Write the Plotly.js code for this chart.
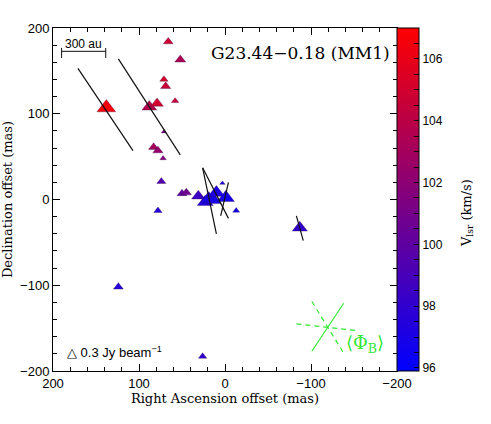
<!DOCTYPE html>
<html>
<head>
<meta charset="utf-8">
<script src="https://cdn.plot.ly/plotly-3.0.1.min.js"></script>
<style>
  body { margin: 0; background: #fff; }
  #plot { width: 491px; height: 424px; }
</style>
</head>
<body>
<div id="plot"></div>
<script>
// maser spots: RA offset, Dec offset (mas), Vlsr (km/s), peak flux (Jy/beam)
var raOff  = [138,  66,  52,  71,  69,  58,  88,  79,  71,  83,  78,  72,  74,  78,  50,  45,  31,  23,  19,  13,  10,  -1,   3, -13, -87, 124,  26];
var decOff = [107, 184, 163, 140, 132, 115, 108, 112,  79,  61,  57,  48,  21, -13,   7,   8,   4,  -3,   1,  -1,   8,   2,  19, -13, -33,-102,-183];
var vlsr   = [106.7,104.8,103.4,105.3,104.6,104.8,103.8,105.0,101.5,103.0,102.4,101.6,99.5,97.5,100.2,100.8,98.5,97.3,97.0,96.9,97.1,96.7,97.0,96.8,98.0,97.5,98.0];
var flux   = [0.50,0.14,0.17,0.10,0.15,0.08,0.31,0.23,0.04,0.15,0.15,0.06,0.12,0.10,0.14,0.15,0.26,0.36,0.38,0.32,0.38,0.42,0.04,0.07,0.33,0.14,0.10];

// polarization vectors (start / end, mas)
var vecX0 = [171, 124,  26,  26,  -4, -83];
var vecY0 = [153, 164,  37,  37,  20, -19];
var vecX1 = [107,  52,  10,  -4,   5, -91];
var vecY1 = [ 57,  52, -40, -22, -19, -48];

// 300 au scale bar
var barX = [190, 138.7];
var barY = 172.8;
var barCap = [176.7, 165];

// <Phi_B> marker: solid line, two dashed lines
var phiSolidX = [-101, -138];
var phiSolidY = [-177, -121];
var phiDashX = [-101, -138, null, -83, -155];
var phiDashY = [-119, -179, null, -145, -153];

var cbTicks = [];
var cbText = [];
for (var v = 96; v <= 107; v += 0.5) {
  cbTicks.push(v);
  cbText.push(v % 2 == 0 ? String(v) : "");
}

function segs(x0, y0, x1, y1) {
  var xs = [], ys = [];
  for (var i = 0; i < x0.length; i++) {
    xs.push(x0[i], x1[i], null);
    ys.push(y0[i], y1[i], null);
  }
  return [xs, ys];
}

var sizes = flux.map(function (f) { return 23 * Math.sqrt(f); });
var vs = segs(vecX0, vecY0, vecX1, vecY1);

var barXs = [barX[0], barX[0], null, barX[0], barX[1], null, barX[1], barX[1]];
var barYs = [barCap[0], barCap[1], null, barY, barY, null, barCap[0], barCap[1]];

var serif = "DejaVu Serif";
var sans = "Liberation Sans";

var data = [
  {
    x: raOff, y: decOff, type: "scatter", mode: "markers",
    marker: {
      symbol: "triangle-up", size: sizes, color: vlsr, opacity: 1,
      colorscale: [[0, "rgb(0,0,255)"], [1, "rgb(255,0,0)"]],
      cmin: 95.9, cmax: 107.0,
      line: { width: 0.6, color: "rgba(40,0,60,0.5)" },
      colorbar: {
        x: 1, xanchor: "left", xpad: 0, y: 0.5, yanchor: "middle", ypad: 0,
        len: 1, lenmode: "fraction", thickness: 22,
        outlinewidth: 1, outlinecolor: "#000",
        tickmode: "array", tickvals: cbTicks, ticktext: cbText,
        ticks: "inside", ticklen: 5, tickcolor: "#000",
        tickfont: { family: sans, size: 12, color: "#000" }
      }
    },
    hoverinfo: "skip", showlegend: false
  },
  { x: vs[0], y: vs[1], type: "scatter", mode: "lines",
    line: { color: "#111", width: 1.2 }, hoverinfo: "skip", showlegend: false },
  { x: barXs, y: barYs, type: "scatter", mode: "lines",
    line: { color: "#111", width: 1 }, hoverinfo: "skip", showlegend: false },
  { x: phiSolidX, y: phiSolidY, type: "scatter", mode: "lines",
    line: { color: "#33e633", width: 1.2 }, hoverinfo: "skip", showlegend: false },
  { x: phiDashX, y: phiDashY, type: "scatter", mode: "lines",
    line: { color: "#33e633", width: 1.2, dash: "5px,4px" }, hoverinfo: "skip", showlegend: false }
];

var axisCommon = {
  showgrid: false, zeroline: false, showline: true, linecolor: "#000", linewidth: 1,
  mirror: "ticks", ticks: "inside", ticklen: 7, tickcolor: "#000",
  tickmode: "array", tickvals: [-200, -100, 0, 100, 200],
  tickfont: { family: sans, size: 13, color: "#000" },
  minor: { tickmode: "linear", dtick: 20, ticks: "inside", ticklen: 4, tickcolor: "#000" }
};

var layout = {
  width: 491, height: 424,
  margin: { l: 53, r: 94, t: 28, b: 53 },
  paper_bgcolor: "#fff", plot_bgcolor: "#fff",
  hovermode: false,
  xaxis: Object.assign({}, axisCommon, {
    range: [200, -200], autorange: false,
    title: { text: "Right Ascension offset (mas)", standoff: 3,
             font: { family: serif, size: 13, color: "#000" } }
  }),
  yaxis: Object.assign({}, axisCommon, {
    range: [-200, 200], autorange: false,
    title: { text: "Declination offset (mas)", standoff: 5,
             font: { family: serif, size: 13, color: "#000" } }
  }),
  annotations: [
    { x: -194, y: 171, xref: "x", yref: "y", xanchor: "right", yanchor: "middle",
      text: "G23.44\u22120.18 (MM1)", showarrow: false,
      font: { family: serif, size: 17, color: "#000" } },
    { x: 164, y: 181, xref: "x", yref: "y", xanchor: "center", yanchor: "middle",
      text: "300 au", showarrow: false,
      font: { family: sans, size: 12, color: "#000" } },
    { x: 186, y: -178, xref: "x", yref: "y", xanchor: "left", yanchor: "middle",
      text: "\u25B3 0.3 Jy beam<sup>\u22121</sup>", showarrow: false,
      font: { family: sans, size: 13, color: "#000" } },
    { x: -163, y: -168, xref: "x", yref: "y", xanchor: "center", yanchor: "middle",
      text: "\u27E8\u03A6<sub>B</sub>\u27E9", showarrow: false,
      font: { family: serif, size: 18, color: "#33e633" } },
    { x: 1.203, y: 0.46, xref: "paper", yref: "paper", xanchor: "center", yanchor: "middle",
      textangle: -90, text: "V<sub>lsr</sub> (km/s)", showarrow: false,
      font: { family: serif, size: 13, color: "#000" } }
  ]
};

Plotly.newPlot("plot", data, layout, { displayModeBar: false, staticPlot: true });
</script>
</body>
</html>
